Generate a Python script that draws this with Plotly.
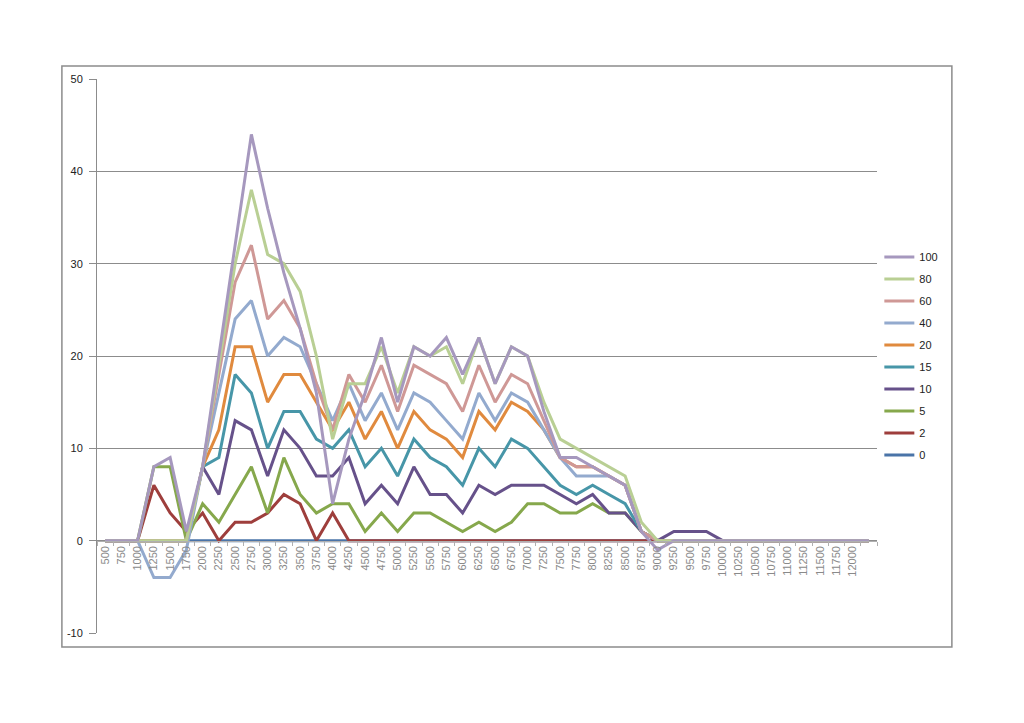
import plotly.graph_objects as go

# category axis: 500 .. 12250 in steps of 250 (last label left blank, as in the original)
categories = [500, 750, 1000, 1250, 1500, 1750, 2000, 2250, 2500, 2750, 3000, 3250,
              3500, 3750, 4000, 4250, 4500, 4750, 5000, 5250, 5500, 5750, 6000, 6250,
              6500, 6750, 7000, 7250, 7500, 7750, 8000, 8250, 8500, 8750, 9000, 9250,
              9500, 9750, 10000, 10250, 10500, 10750, 11000, 11250, 11500, 11750, 12000, 12250]
tick_labels = [str(c) for c in categories[:-1]] + [""]

y_ticks = [-10, 0, 10, 20, 30, 40, 50]
y_tick_labels = ["-10", "0", "10", "20", "30", "40", "50"]

s0 = [0, 0, 0, 0, 0, 0, 0, 0, 0, 0, 0, 0, 0, 0, 0, 0, 0, 0, 0, 0, 0, 0, 0, 0,
      0, 0, 0, 0, 0, 0, 0, 0, 0, 0, 0, 0, 0, 0, 0, 0, 0, 0, 0, 0, 0, 0, 0, 0]
s2 = [0, 0, 0, 6, 3, 1, 3, 0, 2, 2, 3, 5, 4, 0, 3, 0, 0, 0, 0, 0, 0, 0, 0, 0,
      0, 0, 0, 0, 0, 0, 0, 0, 0, 0, 0, 0, 0, 0, 0, 0, 0, 0, 0, 0, 0, 0, 0, 0]
s5 = [0, 0, 0, 8, 8, 0, 4, 2, 5, 8, 3, 9, 5, 3, 4, 4, 1, 3, 1, 3, 3, 2, 1, 2,
      1, 2, 4, 4, 3, 3, 4, 3, 3, 1, 0, 0, 0, 0, 0, 0, 0, 0, 0, 0, 0, 0, 0, 0]
s10 = [0, 0, 0, 0, 0, 0, 8, 5, 13, 12, 7, 12, 10, 7, 7, 9, 4, 6, 4, 8, 5, 5, 3, 6,
       5, 6, 6, 6, 5, 4, 5, 3, 3, 1, 0, 1, 1, 1, 0, 0, 0, 0, 0, 0, 0, 0, 0, 0]
s15 = [0, 0, 0, 0, 0, 0, 8, 9, 18, 16, 10, 14, 14, 11, 10, 12, 8, 10, 7, 11, 9, 8, 6, 10,
       8, 11, 10, 8, 6, 5, 6, 5, 4, 1, 0, 0, 0, 0, 0, 0, 0, 0, 0, 0, 0, 0, 0, 0]
s20 = [0, 0, 0, 0, 0, 0, 8, 12, 21, 21, 15, 18, 18, 15, 12, 15, 11, 14, 10, 14, 12, 11, 9, 14,
       12, 15, 14, 12, 9, 8, 8, 7, 6, 1, 0, 0, 0, 0, 0, 0, 0, 0, 0, 0, 0, 0, 0, 0]
s40 = [0, 0, 0, -4, -4, -1, 8, 16, 24, 26, 20, 22, 21, 17, 13, 17, 13, 16, 12, 16, 15, 13, 11, 16,
       13, 16, 15, 12, 9, 7, 7, 7, 6, 1, 0, 0, 0, 0, 0, 0, 0, 0, 0, 0, 0, 0, 0, 0]
s60 = [0, 0, 0, 0, 0, 0, 8, 18, 28, 32, 24, 26, 23, 17, 12, 18, 15, 19, 14, 19, 18, 17, 14, 19,
       15, 18, 17, 13, 9, 8, 8, 7, 6, 1, 0, 0, 0, 0, 0, 0, 0, 0, 0, 0, 0, 0, 0, 0]
s80 = [0, 0, 0, 0, 0, 0, 8, 19, 30, 38, 31, 30, 27, 20, 11, 17, 17, 21, 16, 21, 20, 21, 17, 22,
       17, 21, 20, 15, 11, 10, 9, 8, 7, 2, 0, 0, 0, 0, 0, 0, 0, 0, 0, 0, 0, 0, 0, 0]
s100 = [0, 0, 0, 8, 9, 1, 8, 20, 32, 44, 36, 29, 23, 16, 4, 11, 16, 22, 15, 21, 20, 22, 18, 22,
        17, 21, 20, 14, 9, 9, 8, 7, 6, 1, -1, 0, 0, 0, 0, 0, 0, 0, 0, 0, 0, 0, 0, 0]

series_names = ["0", "2", "5", "10", "15", "20", "40", "60", "80", "100"]
series_values = [s0, s2, s5, s10, s15, s20, s40, s60, s80, s100]
series_colors = ["#4A74A8", "#9E3E3C", "#86A84C", "#66518A", "#4796A8",
                 "#E08A3E", "#93AACE", "#CF9896", "#B9CF94", "#A698BE"]

fig = go.Figure()
# drawn 0 -> 100 (100 on top), listed 100 -> 0 in the legend
for i, (name, vals, col) in enumerate(zip(series_names, series_values, series_colors)):
    fig.add_trace(go.Scatter(
        x=categories, y=vals, name=name, mode="lines", legendgroup=name,
        legendrank=100 - i, line=dict(color=col, width=3),
    ))

# the page has an 8px body margin, so the figure is sized to fit inside the window
fig.update_layout(
    width=1016, height=715,
    paper_bgcolor="white", plot_bgcolor="white",
    margin=dict(l=89, r=147, t=71, b=90),
    font=dict(family="Liberation Sans, Arial, sans-serif", size=11, color="#222222"),
    showlegend=True,
    legend=dict(x=1.003, y=0.5, xanchor="left", yanchor="middle",
                traceorder="grouped", tracegroupgap=3,
                font=dict(size=11, color="#222222"),
                bgcolor="rgba(0,0,0,0)"),
    xaxis=dict(
        type="category", tickmode="array", tickvals=categories, ticktext=tick_labels,
        tickangle=-90, tickfont=dict(size=11, color="#8a8a8a"),
        anchor="free", position=1 / 6, showline=True, linecolor="#b0b0b0",
        ticks="outside", ticklen=4, tickcolor="#b0b0b0", tickson="boundaries",
        showgrid=False, zeroline=False, range=[-0.5, 47.5],
    ),
    yaxis=dict(
        range=[-10, 50], tickmode="array", tickvals=y_ticks, ticktext=y_tick_labels,
        showgrid=True, gridcolor="#8c8c8c", gridwidth=1,
        zeroline=False, showline=True, linecolor="#8c8c8c",
        ticks="outside", ticklen=7, tickcolor="#8c8c8c", ticklabelstandoff=4,
        tickfont=dict(size=11, color="#222222"),
    ),
)

# outer chart border
fig.add_shape(type="rect", xref="paper", yref="paper",
              x0=-0.045, x1=1.096, y0=-0.0253, y1=1.0235,
              line=dict(color="#8c8c8c", width=1.5), layer="below")

fig.write_html("out.html")
